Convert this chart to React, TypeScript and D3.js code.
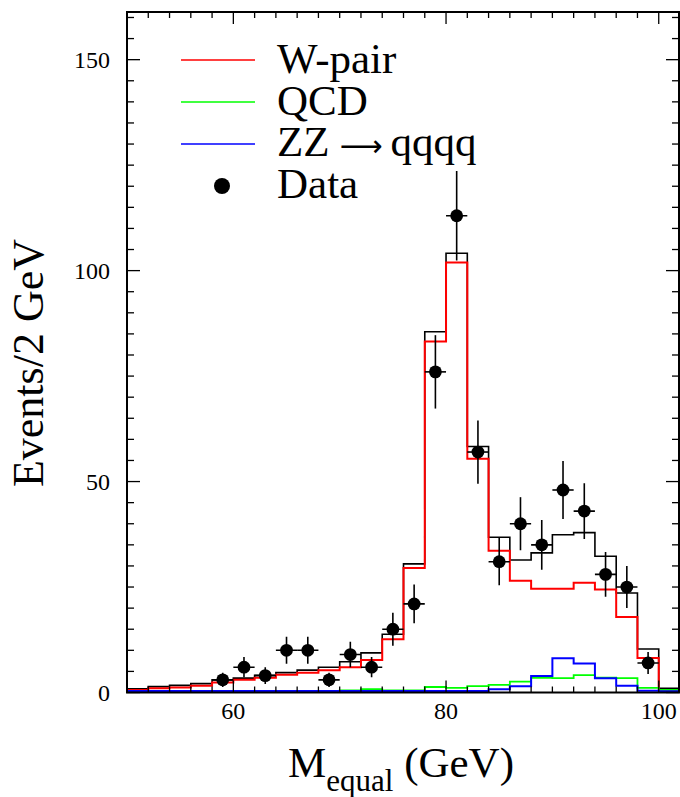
import React from "react";
import * as d3 from "d3";

// Bin edges: 2 GeV bins from 50 to 102
const binLow = [50, 52, 54, 56, 58, 60, 62, 64, 66, 68, 70, 72, 74, 76, 78, 80, 82, 84, 86, 88, 90, 92, 94, 96, 98, 100];
const binWidth = 2;

const totalMC = [0.9, 1.4, 1.7, 2.1, 3.0, 3.4, 4.1, 4.7, 5.3, 6.0, 7.3, 9.4, 13.8, 30.5, 85.5, 104.1, 58.3, 36.8, 31.4, 33.1, 37.4, 37.9, 32.3, 23.6, 10.3, 1.0];
const wPair = [0.6, 1.0, 1.2, 1.6, 2.4, 3.0, 3.5, 4.2, 4.7, 5.3, 6.0, 7.7, 12.6, 29.5, 83.2, 101.9, 55.4, 33.6, 26.5, 24.6, 24.6, 26.0, 24.4, 17.9, 8.2, 0.6];
const qcd = [0.2, 0.2, 0.2, 0.2, 0.2, 0.2, 0.2, 0.2, 0.2, 0.2, 0.5, 0.8, 0.5, 0.5, 1.3, 1.1, 1.5, 1.8, 2.6, 3.5, 3.4, 4.1, 3.5, 3.4, 1.1, 0.6];
const zz = [0.35, 0.35, 0.35, 0.35, 0.35, 0.35, 0.35, 0.35, 0.35, 0.35, 0.35, 0.35, 0.35, 0.35, 0.35, 0.35, 0.35, 0.8, 1.5, 3.9, 8.1, 6.9, 3.4, 1.6, 0.4, 0.3];

const dataX = [59, 61, 63, 65, 67, 69, 71, 73, 75, 77, 79, 81, 83, 85, 87, 89, 91, 93, 95, 97, 99];
const dataY = [3, 6, 4, 10, 10, 3, 9, 6, 15, 21, 76, 113, 57, 31, 40, 35, 48, 43, 28, 25, 7];
const dataErr = [1.7, 2.4, 2.0, 3.2, 3.2, 1.7, 3.0, 2.4, 3.9, 4.6, 8.7, 10.6, 7.5, 5.6, 6.3, 5.9, 6.9, 6.6, 5.3, 5.0, 2.6];

const xTickLabels = [60, 80, 100];
const yTickLabels = [0, 50, 100, 150];

const legendNames = ["W-pair", "QCD", "ZZ", "Data"];
const legendColors = ["#ff0000", "#00ff00", "#0000ff", "#000000"];

const W = 680;
const H = 797;
const L = 127;
const R = 680;
const T = 12;
const B = 692.5;

const FONT = "'Liberation Serif', 'Times New Roman', 'DejaVu Serif', serif";

export default function App() {
  const x = d3.scaleLinear().domain([50, 102]).range([L, R]);
  const y = d3.scaleLinear().domain([0, 161.3]).range([B, T]);

  const stepLine = d3
    .line<[number, number]>()
    .x((d) => x(d[0]))
    .y((d) => y(d[1]))
    .curve(d3.curveStepAfter);

  const histPath = (vals: number[]) => {
    const pts: [number, number][] = binLow.map((lo, i) => [lo, vals[i]]);
    pts.push([binLow[binLow.length - 1] + binWidth, vals[vals.length - 1]]);
    return stepLine(pts) || "";
  };

  const xMinor = d3.range(52, 102, 2);
  const yMinor = d3.range(0, 161, 5);

  const frameRight = 679;

  return (
    <svg
      width={W}
      height={H}
      style={{ position: "absolute", left: 0, top: 0, background: "#fff" }}
      fontFamily={FONT}
    >
      <rect x={0} y={0} width={W} height={H} fill="#fff" />
      <defs>
        <clipPath id="plotclip">
          <rect x={L} y={T} width={frameRight - L} height={B - T} />
        </clipPath>
      </defs>

      {/* histograms */}
      <g clipPath="url(#plotclip)" fill="none">
        <path d={histPath(totalMC)} stroke="#000" strokeWidth={1.6} />
        <path d={histPath(wPair)} stroke="#ff0000" strokeWidth={2} />
        <path d={histPath(qcd)} stroke="#00ff00" strokeWidth={1.8} />
        <path d={histPath(zz)} stroke="#0000ff" strokeWidth={2} />
      </g>

      {/* data points */}
      <g clipPath="url(#plotclip)">
        {dataX.map((cx, i) => (
          <g key={i}>
            <line
              x1={x(cx)}
              x2={x(cx)}
              y1={y(dataY[i] + dataErr[i])}
              y2={y(Math.max(0, dataY[i] - dataErr[i]))}
              stroke="#000"
              strokeWidth={1.6}
            />
            <line
              x1={x(cx - binWidth / 2)}
              x2={x(cx + binWidth / 2)}
              y1={y(dataY[i])}
              y2={y(dataY[i])}
              stroke="#000"
              strokeWidth={1.6}
            />
            <circle cx={x(cx)} cy={y(dataY[i])} r={6.4} fill="#000" />
          </g>
        ))}
      </g>

      {/* ticks */}
      <g stroke="#000" strokeWidth={1.3}>
        {xMinor.map((v) => {
          const major = xTickLabels.includes(v);
          const len = major ? 12 : 6;
          return (
            <g key={"xt" + v}>
              <line x1={x(v)} x2={x(v)} y1={B} y2={B - len} />
              <line x1={x(v)} x2={x(v)} y1={T} y2={T + len} />
            </g>
          );
        })}
        {yMinor.map((v) => {
          const major = yTickLabels.includes(v);
          const len = major ? 13 : 7;
          return (
            <g key={"yt" + v}>
              <line x1={L} x2={L + len} y1={y(v)} y2={y(v)} />
              <line x1={frameRight} x2={frameRight - len} y1={y(v)} y2={y(v)} />
            </g>
          );
        })}
      </g>

      {/* frame */}
      <rect
        x={L}
        y={T}
        width={frameRight - L}
        height={B - T}
        fill="none"
        stroke="#000"
        strokeWidth={2}
      />

      {/* tick labels */}
      <g fontSize={24} fill="#000">
        {xTickLabels.map((v) => (
          <text key={"xl" + v} x={x(v)} y={719} textAnchor="middle">
            {v}
          </text>
        ))}
        {yTickLabels.map((v) => (
          <text key={"yl" + v} x={110} y={y(v) + 8} textAnchor="end">
            {v}
          </text>
        ))}
      </g>

      {/* axis titles */}
      <text x={288} y={777} fontSize={43} fill="#000">
        M
        <tspan fontSize={31} dy={14}>
          equal
        </tspan>
        <tspan fontSize={43} dy={-14}>
          {" (GeV)"}
        </tspan>
      </text>
      <text
        transform="translate(43,363) rotate(-90)"
        textAnchor="middle"
        fontSize={44}
        fill="#000"
      >
        Events/2 GeV
      </text>

      {/* legend */}
      <g>
        {legendNames.map((name, i) => {
          const ly = 60 + i * 42;
          const tb = 73 + i * 41.6;
          return (
            <g key={name}>
              {i < 3 ? (
                <line x1={181} x2={255} y1={ly} y2={ly} stroke={legendColors[i]} strokeWidth={1.4} />
              ) : (
                <circle cx={222} cy={186} r={8} fill="#000" />
              )}
              {i === 2 ? (
                <text x={277} y={tb} fontSize={43} fill="#000">
                  {name}
                  <tspan fontFamily="'DejaVu Sans', sans-serif" fontSize={30} dx={10}>
                    {"\u27F6"}
                  </tspan>
                  <tspan dx={8}>
                    qqqq
                  </tspan>
                </text>
              ) : (
                <text x={277} y={tb} fontSize={43} fill="#000">
                  {name}
                </text>
              )}
            </g>
          );
        })}
      </g>
    </svg>
  );
}
